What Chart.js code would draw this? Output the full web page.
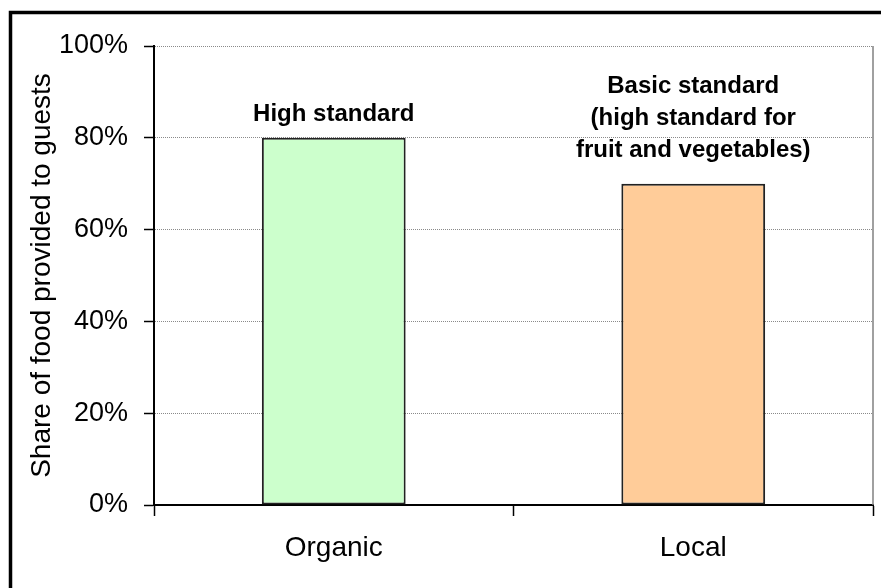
<!DOCTYPE html>
<html>
<head>
<meta charset="utf-8">
<script src="https://cdn.jsdelivr.net/npm/chart.js@4/dist/chart.umd.min.js"></script>
<style>
  html, body { margin: 0; padding: 0; background: #ffffff; }
  #wrap { position: relative; width: 881px; height: 588px; overflow: hidden; }
  canvas { display: block; }
</style>
</head>
<body>
<div id="wrap"><canvas id="c" width="881" height="588"></canvas></div>
<script>
// ---- data ----
const categories = ["Organic", "Local"];
const shareValues = [80, 70];
const barColors = ["#CCFFCC", "#FFCC99"];
const noteLines = [
  ["High standard"],
  ["Basic standard", "(high standard for", "fruit and vegetables)"]
];
const yTickMin = 0;
const yTickMax = 100;
const yTickStep = 20;
const yTitle = "Share of food provided to guests";

const FONT = "'Liberation Sans', Arial, Helvetica, sans-serif";

const framePlugin = {
  id: "frame",
  beforeDraw(chart) {
    const ctx = chart.ctx;
    ctx.save();
    ctx.fillStyle = "#ffffff";
    ctx.fillRect(0, 0, chart.width, chart.height);
    ctx.strokeStyle = "#000000";
    ctx.lineWidth = 3.5;
    ctx.strokeRect(10.5, 12.5, 900, 620);
    ctx.restore();
  },
  afterDraw(chart) {
    const ctx = chart.ctx;
    const a = chart.chartArea;
    ctx.save();
    ctx.strokeStyle = "#808080";
    ctx.lineWidth = 1.5;
    ctx.beginPath();
    ctx.moveTo(a.right, a.top);
    ctx.lineTo(a.right, a.bottom);
    ctx.stroke();
    ctx.restore();
  }
};

const notePlugin = {
  id: "notes",
  afterDatasetsDraw(chart) {
    const ctx = chart.ctx;
    const meta = chart.getDatasetMeta(0);
    const gaps = [17, 27];
    const lineStep = 32;
    ctx.save();
    ctx.font = "bold 24px " + FONT;
    ctx.fillStyle = "#000000";
    ctx.textAlign = "center";
    ctx.textBaseline = "alphabetic";
    meta.data.forEach((bar, i) => {
      const lines = noteLines[i] || [];
      const lastBase = bar.y - gaps[i];
      lines.forEach((t, j) => {
        const y = lastBase - (lines.length - 1 - j) * lineStep;
        ctx.fillText(t, bar.x, y);
      });
    });
    ctx.restore();
  }
};

new Chart(document.getElementById("c"), {
  type: "bar",
  data: {
    labels: categories,
    datasets: [{
      data: shareValues,
      backgroundColor: barColors,
      borderColor: "#222222",
      borderWidth: 2,
      borderSkipped: false,
      barPercentage: 0.4,
      categoryPercentage: 1.0
    }]
  },
  options: {
    responsive: false,
    animation: false,
    devicePixelRatio: 1,
    layout: { padding: { top: 46, right: 8, left: 0, bottom: 0 } },
    plugins: {
      legend: { display: false },
      tooltip: { enabled: false },
      title: { display: false }
    },
    scales: {
      x: {
        offset: true,
        grid: {
          display: true,
          drawOnChartArea: false,
          drawTicks: true,
          tickLength: 11,
          tickColor: "#000000",
          tickWidth: 1.5,
          offset: true
        },
        border: { display: true, color: "#000000", width: 2 },
        ticks: {
          color: "#000000",
          font: { family: FONT, size: 28 },
          padding: 15,
          maxRotation: 0
        },
        afterFit(scale) { scale.height = 83; }
      },
      y: {
        min: yTickMin,
        max: yTickMax,
        grid: {
          color: "#8a8a8a",
          lineWidth: 1,
          drawTicks: true,
          tickLength: 10,
          tickColor: "#000000",
          tickWidth: 1.5
        },
        border: { display: true, color: "#000000", width: 2, dash: [1, 1] },
        ticks: {
          stepSize: yTickStep,
          color: "#000000",
          font: { family: FONT, size: 27 },
          padding: 16,
          callback: (v) => v + "%"
        },
        title: {
          display: true,
          text: yTitle,
          color: "#000000",
          font: { family: FONT, size: 28 },
          padding: { top: 25, bottom: 0 }
        },
        afterFit(scale) { scale.width = 154; }
      }
    }
  },
  plugins: [framePlugin, notePlugin]
});
</script>
</body>
</html>
